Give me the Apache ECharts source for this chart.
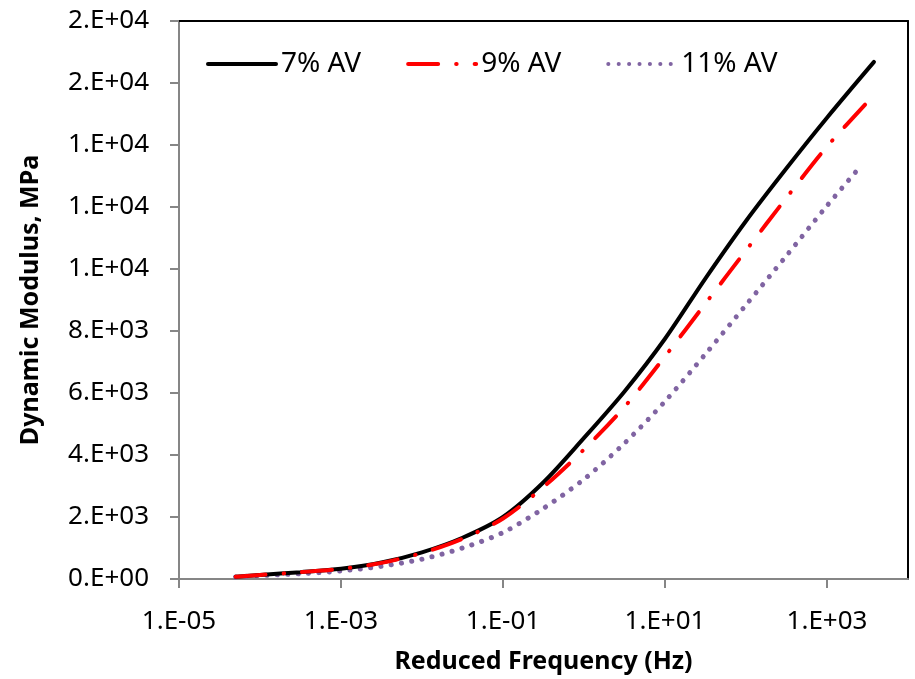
<!DOCTYPE html>
<html>
<head>
<meta charset="utf-8">
<script src="https://cdn.jsdelivr.net/npm/echarts@6/dist/echarts.min.js"></script>
<style>
  html, body { margin: 0; padding: 0; background: #fff; }
  #modulus { width: 915px; height: 679px; }
</style>
</head>
<body>
<div id="modulus"></div>
<script>
// log10 of reduced frequency (Hz) where the curves were read
var logFreq = [-4.3, -4, -3.5, -3, -2.5, -2, -1.5, -1, -0.5, 0, 0.5, 1, 1.5, 2, 2.5, 3];
// last point of each curve (log10 Hz)
var endLog7 = 3.58, endLog9 = 3.56, endLog11 = 3.43;

// dynamic modulus, MPa
var av7  = [75, 130, 220, 330, 530, 860, 1330, 2000, 3120, 4550, 6050, 7750, 9700, 11550, 13250, 14880, 16680];
var av9  = [75, 130, 220, 330, 520, 840, 1300, 1950, 2970, 4180, 5550, 7180, 8890, 10600, 12300, 13950, 15550];
var av11 = [65, 110, 170, 260, 410, 640, 1000, 1500, 2280, 3220, 4380, 5730, 7260, 8840, 10430, 12040, 13360];

var xTickExp = [-5, -3, -1, 1, 3];
var xTickLabels = ['1.E-05', '1.E-03', '1.E-01', '1.E+01', '1.E+03'];
var yTickLabels = ['0.E+00', '2.E+03', '4.E+03', '6.E+03', '8.E+03',
                   '1.E+04', '1.E+04', '1.E+04', '2.E+04', '2.E+04'];

function pairs(vals, endLog) {
  var xs = logFreq.concat([endLog]);
  return xs.map(function (x, i) { return [x, vals[i]]; });
}

var font = 'Noto Sans';
var dom = document.getElementById('modulus');
var myChart = echarts.init(dom, null, { renderer: 'canvas' });

var option = {
  animation: false,
  textStyle: { fontFamily: font },
  grid: { left: 179, right: 7, top: 21, bottom: 99 },
  legend: {
    left: 206,
    top: 50,
    padding: 0,
    itemWidth: 68,
    itemHeight: 20,
    itemGap: 45,
    itemStyle: { opacity: 0 },
    lineStyle: { width: 4 },
    textStyle: { fontFamily: font, fontSize: 28, color: '#000' },
    data: ['7% AV', '9% AV', '11% AV']
  },
  xAxis: [{
    type: 'value',
    min: -5,
    max: 4,
    interval: 1,
    name: 'Reduced Frequency (Hz)',
    nameLocation: 'middle',
    nameGap: 70,
    nameTextStyle: { fontFamily: font, fontSize: 25, fontWeight: 'bold', color: '#000' },
    axisLine: { onZero: false, lineStyle: { color: '#868686', width: 2 } },
    axisTick: { show: true, length: 9, customValues: xTickExp, lineStyle: { color: '#868686', width: 2 } },
    axisLabel: {
      customValues: xTickExp,
      margin: 30,
      fontSize: 26,
      color: '#000',
      fontFamily: font,
      formatter: function (v) {
        var i = xTickExp.indexOf(Math.round(v));
        return i < 0 ? '' : xTickLabels[i];
      }
    },
    splitLine: { show: false }
  }, {
    type: 'value', position: 'top', min: -5, max: 4,
    axisLine: { onZero: false, lineStyle: { color: '#000', width: 2 } },
    axisTick: { show: false }, axisLabel: { show: false }, splitLine: { show: false }
  }],
  yAxis: [{
    type: 'value',
    min: 0,
    max: 18000,
    interval: 2000,
    name: 'Dynamic Modulus, MPa',
    nameLocation: 'middle',
    nameGap: 136,
    nameTextStyle: { fontFamily: font, fontSize: 25, fontWeight: 'bold', color: '#000' },
    axisLine: { show: true, onZero: false, lineStyle: { color: '#868686', width: 2 } },
    axisTick: { show: true, length: 9, lineStyle: { color: '#868686', width: 2 } },
    axisLabel: {
      margin: 30,
      fontSize: 26,
      color: '#000',
      fontFamily: font,
      formatter: function (v) { return yTickLabels[Math.round(v / 2000)]; }
    },
    splitLine: { show: false }
  }, {
    type: 'value', position: 'right', min: 0, max: 18000,
    axisLine: { show: true, onZero: false, lineStyle: { color: '#000', width: 2 } },
    axisTick: { show: false }, axisLabel: { show: false }, splitLine: { show: false }
  }],
  series: [
    {
      name: '7% AV',
      type: 'line',
      smooth: 0.3,
      symbol: 'none',
      color: '#000000',
      lineStyle: { color: '#000000', width: 4, cap: 'round' },
      data: pairs(av7, endLog7),
      z: 3
    },
    {
      name: '9% AV',
      type: 'line',
      smooth: 0.3,
      symbol: 'none',
      color: '#FF0000',
      lineStyle: { color: '#FF0000', width: 4, cap: 'round', type: [30, 18, 0.5, 18] },
      data: pairs(av9, endLog9),
      z: 4
    },
    {
      name: '11% AV',
      type: 'line',
      smooth: 0.3,
      symbol: 'none',
      color: '#8064A2',
      lineStyle: { color: '#8064A2', width: 5, cap: 'round', type: [0.1, 10.3] },
      data: pairs(av11, endLog11),
      z: 2
    }
  ]
};

myChart.setOption(option);
window.addEventListener('resize', myChart.resize);
</script>
</body>
</html>
